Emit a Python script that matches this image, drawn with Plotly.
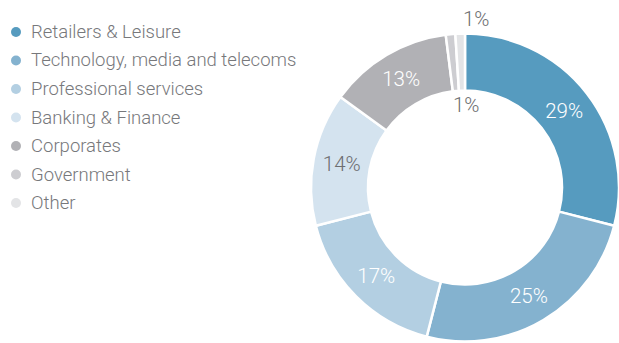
import plotly.graph_objects as go

# Sector breakdown (percent of total)
sectors = [
    "Retailers & Leisure",
    "Technology, media and telecoms",
    "Professional services",
    "Banking & Finance",
    "Corporates",
    "Government",
    "Other",
]
shares = [29, 25, 17, 14, 13, 1, 1]
colors = ["#569bbf", "#84b2cf", "#b3cfe2", "#d4e3ef", "#b1b1b5", "#cdcdd1", "#e3e4e6"]
label_colors = ["white", "white", "white", "#6d6e71", "white", "#6d6e71", "#6d6e71"]

W, H = 619, 343
FONT = "Roboto"
TEXT_GREY = "#77787b"
PCT_SIZE = 20.5
LEGEND_SIZE = 18.5


def px(x):
    return x / W


def py(y):
    return 1 - y / H


# Donut geometry (pixels)
cx, cy, R = 465, 187.5, 154

# The two tiny slices get their labels placed separately
text_pos = ["inside"] * 5 + ["none", "none"]

fig = go.Figure()
fig.add_trace(
    go.Pie(
        labels=sectors,
        values=shares,
        sort=False,
        direction="clockwise",
        rotation=0,
        hole=0.63,
        marker=dict(colors=colors, line=dict(color="white", width=2.5)),
        texttemplate="%{value}%",
        textposition=text_pos,
        insidetextorientation="horizontal",
        insidetextfont=dict(family=FONT, size=PCT_SIZE, color=label_colors, weight=300),
        showlegend=False,
        hoverinfo="label+percent",
        domain=dict(x=[px(cx - R), px(cx + R)], y=[py(cy + R), py(cy - R)]),
    )
)

# Labels for the two 1% slices: one above the ring, one inside the hole
small_label_xy = [(476, 19), (467, 105)]
for val, (lx, ly) in zip(shares[5:], small_label_xy):
    fig.add_annotation(
        x=px(lx), y=py(ly), xref="paper", yref="paper",
        text=f"{val}%", showarrow=False,
        xanchor="center", yanchor="middle",
        font=dict(family=FONT, size=PCT_SIZE, color="#6d6e71", weight=300),
    )

# Legend: coloured dots with sector names
row0, row_gap, dot_x, dot_r, text_x = 32, 28.5, 16, 5, 29
for i, (name, col) in enumerate(zip(sectors, colors)):
    yc = row0 + i * row_gap
    fig.add_shape(
        type="circle", xref="paper", yref="paper",
        x0=px(dot_x - dot_r), x1=px(dot_x + dot_r),
        y0=py(yc + dot_r), y1=py(yc - dot_r),
        fillcolor=col, line=dict(width=0),
    )
    fig.add_annotation(
        x=px(text_x), y=py(yc), xref="paper", yref="paper",
        text=name, showarrow=False,
        xanchor="left", yanchor="middle",
        font=dict(family=FONT, size=LEGEND_SIZE, color=TEXT_GREY, weight=300),
    )

fig.update_layout(
    width=W, height=H,
    margin=dict(l=0, r=0, t=0, b=0),
    paper_bgcolor="white",
    plot_bgcolor="white",
)

fig.write_html("out.html")
